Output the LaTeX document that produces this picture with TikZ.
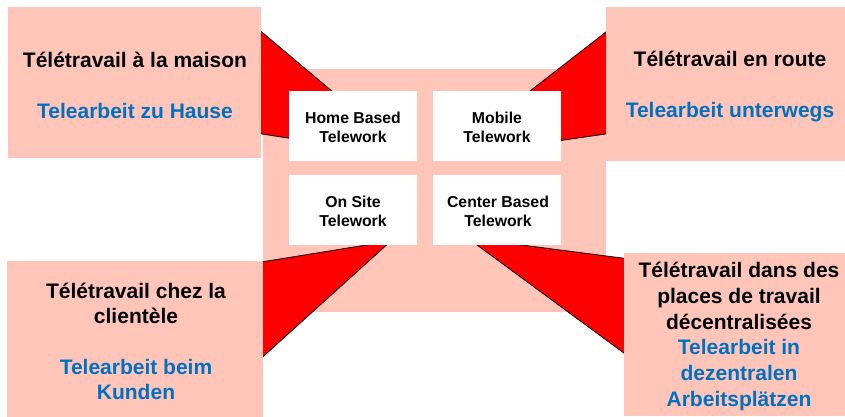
\documentclass[tikz,border=0pt]{standalone}
\usepackage{fontspec}
\setmainfont{Liberation Sans}
\begin{document}
\begin{tikzpicture}[x=1pt,y=-1pt,
  pinkbox/.style={fill=pinkc,draw=none,inner sep=0pt,anchor=north west},
  whitebox/.style={fill=white,draw=none,inner sep=0pt,anchor=north west},
  wedge/.style={fill=red,draw=black,line width=0.8pt,line join=miter},
  titletext/.style={font=\fontsize{21}{25.3}\selectfont\bfseries,align=center,inner sep=0pt},
  smalltext/.style={font=\fontsize{15.8}{19}\selectfont\bfseries,align=center,inner sep=0pt},
  blue/.style={text=bluec}]
\definecolor{pinkc}{RGB}{255,197,185}
\definecolor{bluec}{RGB}{0,112,192}
\useasboundingbox (0,0) rectangle (845,416);
% central box
\node[pinkbox,minimum width=343pt,minimum height=243pt] (center) at (263,69) {};
% wedges
\draw[wedge] (255,26.3) -- (410,157) -- (255,132.9) -- cycle;
\draw[wedge] (612,27.3) -- (445,157) -- (612,133.1) -- cycle;
\draw[wedge] (255,263) -- (391,241) -- (255,363.9) -- cycle;
\draw[wedge] (632,259.3) -- (467.5,238) -- (632,359) -- cycle;
% outer boxes
\node[pinkbox,minimum width=253pt,minimum height=151pt] (tl) at (8,7) {};
\node[pinkbox,minimum width=248pt,minimum height=154pt] (tr) at (606,7) {};
\node[pinkbox,minimum width=256pt,minimum height=161pt] (bl) at (7,261) {};
\node[pinkbox,minimum width=230pt,minimum height=163pt] (br) at (624,253) {};
% white boxes
\node[whitebox,minimum width=128pt,minimum height=70pt] (home) at (289,91) {};
\node[whitebox,minimum width=128pt,minimum height=70pt] (mobile) at (433,91) {};
\node[whitebox,minimum width=128pt,minimum height=70pt] (onsite) at (289,175) {};
\node[whitebox,minimum width=128pt,minimum height=70pt] (centerb) at (433,175) {};
% texts
\node[titletext] (tlt) at (135,85.5) {Télétravail à la maison\\[25.3pt]\textcolor{bluec}{Telearbeit zu Hause}};
\node[titletext] (trt) at (730,86.5) {Télétravail en route\\[25.3pt]\textcolor{bluec}{Telearbeit unterwegs}};
\node[titletext] (blt) at (136,341.5) {Télétravail chez la\\clientèle\\[25.3pt]\textcolor{bluec}{Telearbeit beim}\\\textcolor{bluec}{Kunden}};
\node[titletext,font=\fontsize{21}{25.7}\selectfont\bfseries] (brt) at (739,336.5) {Télétravail dans des\\places de travail\\décentralisées\\\textcolor{bluec}{Telearbeit in}\\\textcolor{bluec}{dezentralen}\\\textcolor{bluec}{Arbeitsplätzen}};
\node[smalltext] (homet) at (353,127) {Home Based\\Telework};
\node[smalltext] (mobilet) at (497,127) {Mobile\\Telework};
\node[smalltext] (onsitet) at (353,211) {On Site\\Telework};
\node[smalltext] (centert) at (498,211) {Center Based\\Telework};
\end{tikzpicture}
\end{document}
